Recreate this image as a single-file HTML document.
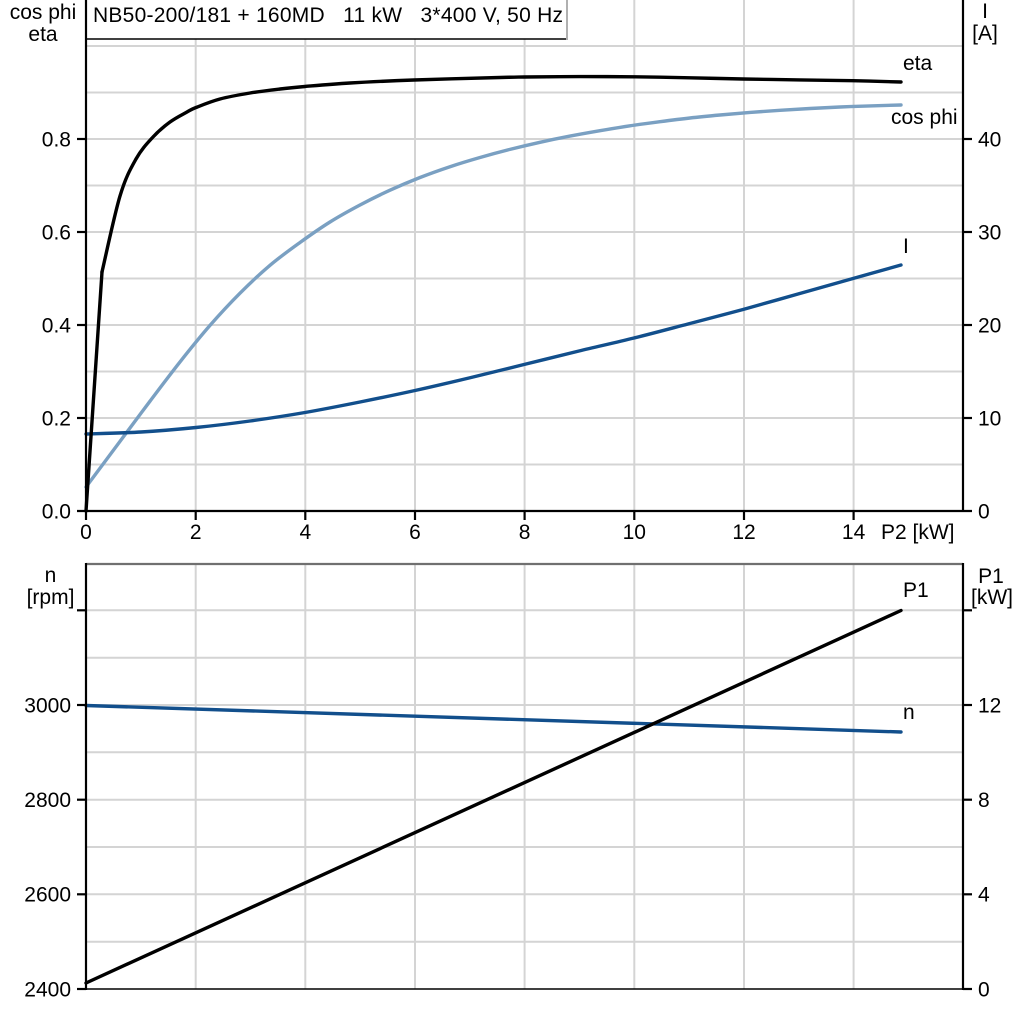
<!DOCTYPE html>
<html>
<head>
<meta charset="utf-8">
<style>
html,body{margin:0;padding:0;background:#fff;}
svg{display:block;}
text{font-family:"Liberation Sans",Arial,sans-serif;font-size:21px;fill:#000;}
</style>
</head>
<body>
<svg id="chart" width="1024" height="1024" viewBox="0 0 1024 1024" xmlns="http://www.w3.org/2000/svg">
<rect x="0" y="0" width="1024" height="1024" fill="#fff"/>

<!-- ============ TOP PLOT ============ -->
<g stroke="#d4d4d4" stroke-width="2" fill="none">
  <line x1="195.7" y1="0" x2="195.7" y2="511"/>
  <line x1="305.3" y1="0" x2="305.3" y2="511"/>
  <line x1="415" y1="0" x2="415" y2="511"/>
  <line x1="524.6" y1="0" x2="524.6" y2="511"/>
  <line x1="634.3" y1="0" x2="634.3" y2="511"/>
  <line x1="744" y1="0" x2="744" y2="511"/>
  <line x1="853.6" y1="0" x2="853.6" y2="511"/>
  <line x1="86" y1="464.5" x2="963" y2="464.5"/>
  <line x1="86" y1="418" x2="963" y2="418"/>
  <line x1="86" y1="371.5" x2="963" y2="371.5"/>
  <line x1="86" y1="325" x2="963" y2="325"/>
  <line x1="86" y1="278.5" x2="963" y2="278.5"/>
  <line x1="86" y1="232" x2="963" y2="232"/>
  <line x1="86" y1="185.5" x2="963" y2="185.5"/>
  <line x1="86" y1="139" x2="963" y2="139"/>
  <line x1="86" y1="92.5" x2="963" y2="92.5"/>
  <line x1="86" y1="46" x2="963" y2="46"/>
</g>

<g fill="none" stroke-width="3.4" stroke-linejoin="round" stroke-linecap="round">
  <polyline class="smooth" stroke="#7aa0c2" points="86,487 120,441.4 150,401.2 180,361.9 210,325.4 240,293.2 270,265.3 300,242.5 330,222 360,205 390,190.2 420,177.5 450,166.7 480,157.5 510,149.4 540,142.3 570,136.1 600,130.7 630,125.8 660,121.7 690,118 720,115 750,112.4 780,110.3 810,108.5 840,107 870,105.9 901,105"/>
  <polyline class="smooth" stroke="#124f8c" points="86,434 141,432 196,427.5 250,421 305,412.5 360,402 415,390.5 469,378 524,364.5 579,351 634,338 688,324 743,309.5 798,294 853,278.5 901,265"/>
  <polyline stroke="#000" points="86,511 102,272"/>
  <polyline class="smooth" stroke="#000" points="102,272 120,196 136,159 153,137 170,122 187,112 196,107.5 220,99 250,93 280,89 305,86.5 350,83 414,80 500,77.5 524,77 580,76.6 634,76.8 690,77.8 743,79 800,79.9 853,80.7 901,82"/>
</g>

<!-- title box -->
<rect x="86" y="0" width="481" height="39" fill="#fff"/>
<line x1="86" y1="39" x2="567" y2="39" stroke="#000" stroke-width="1.5"/>
<line x1="567" y1="0" x2="567" y2="40" stroke="#b0b0b0" stroke-width="2"/>
<text x="93" y="22" textLength="470" lengthAdjust="spacing" xml:space="preserve">NB50-200/181 + 160MD   11 kW   3*400 V, 50 Hz</text>

<g stroke="#000" stroke-width="2.2" fill="none">
  <line x1="86" y1="0" x2="86" y2="512"/>
  <line x1="963" y1="0" x2="963" y2="512"/>
  <line x1="77" y1="511" x2="972" y2="511"/>
  <line x1="77" y1="418" x2="86" y2="418"/>
  <line x1="77" y1="325" x2="86" y2="325"/>
  <line x1="77" y1="232" x2="86" y2="232"/>
  <line x1="77" y1="139" x2="86" y2="139"/>
  <line x1="963" y1="418" x2="972" y2="418"/>
  <line x1="963" y1="325" x2="972" y2="325"/>
  <line x1="963" y1="232" x2="972" y2="232"/>
  <line x1="963" y1="139" x2="972" y2="139"/>
  <line x1="86" y1="511" x2="86" y2="520"/>
  <line x1="195.7" y1="511" x2="195.7" y2="520"/>
  <line x1="305.3" y1="511" x2="305.3" y2="520"/>
  <line x1="415" y1="511" x2="415" y2="520"/>
  <line x1="524.6" y1="511" x2="524.6" y2="520"/>
  <line x1="634.3" y1="511" x2="634.3" y2="520"/>
  <line x1="744" y1="511" x2="744" y2="520"/>
  <line x1="853.6" y1="511" x2="853.6" y2="520"/>
</g>

<g text-anchor="end">
  <text x="71" y="518.5">0.0</text>
  <text x="71" y="425.5">0.2</text>
  <text x="71" y="332.5">0.4</text>
  <text x="71" y="239.5">0.6</text>
  <text x="71" y="146.5">0.8</text>
</g>
<g text-anchor="start">
  <text x="978" y="518.5">0</text>
  <text x="978" y="425.5">10</text>
  <text x="978" y="332.5">20</text>
  <text x="978" y="239.5">30</text>
  <text x="978" y="146.5">40</text>
</g>
<g text-anchor="middle">
  <text x="86" y="539">0</text>
  <text x="195.7" y="539">2</text>
  <text x="305.3" y="539">4</text>
  <text x="415" y="539">6</text>
  <text x="524.6" y="539">8</text>
  <text x="634.3" y="539">10</text>
  <text x="744" y="539">12</text>
  <text x="853.6" y="539">14</text>
  <text x="43" y="19">cos phi</text>
  <text x="43" y="41">eta</text>
  <text x="985" y="18">I</text>
  <text x="985" y="40">[A]</text>
</g>
<text x="881" y="539">P2 [kW]</text>

<text x="903" y="70">eta</text>
<text x="891" y="124" fill="#7aa0c2">cos phi</text>
<text x="903" y="253" fill="#1a62ad">I</text>

<!-- ============ BOTTOM PLOT ============ -->
<g stroke="#d4d4d4" stroke-width="2" fill="none">
  <line x1="195.7" y1="564" x2="195.7" y2="989"/>
  <line x1="305.3" y1="564" x2="305.3" y2="989"/>
  <line x1="415" y1="564" x2="415" y2="989"/>
  <line x1="524.6" y1="564" x2="524.6" y2="989"/>
  <line x1="634.3" y1="564" x2="634.3" y2="989"/>
  <line x1="744" y1="564" x2="744" y2="989"/>
  <line x1="853.6" y1="564" x2="853.6" y2="989"/>
  <line x1="86" y1="941.7" x2="963" y2="941.7"/>
  <line x1="86" y1="894.3" x2="963" y2="894.3"/>
  <line x1="86" y1="847" x2="963" y2="847"/>
  <line x1="86" y1="799.7" x2="963" y2="799.7"/>
  <line x1="86" y1="752.3" x2="963" y2="752.3"/>
  <line x1="86" y1="705" x2="963" y2="705"/>
  <line x1="86" y1="657.7" x2="963" y2="657.7"/>
  <line x1="86" y1="610.3" x2="963" y2="610.3"/>
</g>

<g fill="none" stroke-width="3.4" stroke-linecap="round">
  <line x1="86" y1="705.5" x2="901" y2="732" stroke="#124f8c"/>
  <line x1="86" y1="983" x2="901" y2="610.5" stroke="#000"/>
</g>

<g stroke-width="2.2" fill="none">
  <line x1="86" y1="564" x2="963" y2="564" stroke="#707070"/>
  <line x1="86" y1="989" x2="963" y2="989" stroke="#000" stroke-width="1.5"/>
  <line x1="86" y1="563" x2="86" y2="990" stroke="#000"/>
  <line x1="963" y1="563" x2="963" y2="990" stroke="#000"/>
  <g stroke="#000">
    <line x1="77" y1="989" x2="86" y2="989"/>
    <line x1="77" y1="894.3" x2="86" y2="894.3"/>
    <line x1="77" y1="799.7" x2="86" y2="799.7"/>
    <line x1="77" y1="705" x2="86" y2="705"/>
    <line x1="77" y1="610.3" x2="86" y2="610.3"/>
    <line x1="963" y1="989" x2="972" y2="989"/>
    <line x1="963" y1="894.3" x2="972" y2="894.3"/>
    <line x1="963" y1="799.7" x2="972" y2="799.7"/>
    <line x1="963" y1="705" x2="972" y2="705"/>
    <line x1="963" y1="610.3" x2="972" y2="610.3"/>
  </g>
</g>

<g text-anchor="end">
  <text x="71" y="996.5">2400</text>
  <text x="71" y="901.5">2600</text>
  <text x="71" y="807">2800</text>
  <text x="71" y="712.5">3000</text>
</g>
<g text-anchor="start">
  <text x="978" y="996.5">0</text>
  <text x="978" y="901.5">4</text>
  <text x="978" y="807">8</text>
  <text x="978" y="712.5">12</text>
</g>
<g text-anchor="middle">
  <text x="50.5" y="582">n</text>
  <text x="50.5" y="604">[rpm]</text>
  <text x="991" y="583">P1</text>
  <text x="992" y="604">[kW]</text>
</g>
<text x="903" y="597">P1</text>
<text x="903" y="719" fill="#1a62ad">n</text>
</svg>
<script>
(function(){
  var NS="http://www.w3.org/2000/svg";
  var pls=document.querySelectorAll("polyline.smooth");
  for(var k=0;k<pls.length;k++){
    var pl=pls[k];
    var raw=pl.getAttribute("points").trim().split(/\s+/);
    var p=[];
    for(var i=0;i<raw.length;i++){var a=raw[i].split(",");p.push([+a[0],+a[1]]);}
    if(p.length<3)continue;
    var d="M"+p[0][0]+","+p[0][1];
    for(var i=0;i<p.length-1;i++){
      var p0=p[i>0?i-1:i],p1=p[i],p2=p[i+1],p3=p[i+2<p.length?i+2:i+1];
      var c1x=p1[0]+(p2[0]-p0[0])/6,c1y=p1[1]+(p2[1]-p0[1])/6;
      var c2x=p2[0]-(p3[0]-p1[0])/6,c2y=p2[1]-(p3[1]-p1[1])/6;
      d+=" C"+c1x.toFixed(2)+","+c1y.toFixed(2)+" "+c2x.toFixed(2)+","+c2y.toFixed(2)+" "+p2[0]+","+p2[1];
    }
    var path=document.createElementNS(NS,"path");
    path.setAttribute("d",d);
    path.setAttribute("stroke",pl.getAttribute("stroke"));
    path.setAttribute("fill","none");
    pl.parentNode.replaceChild(path,pl);
  }
})();
</script>
</body>
</html>
